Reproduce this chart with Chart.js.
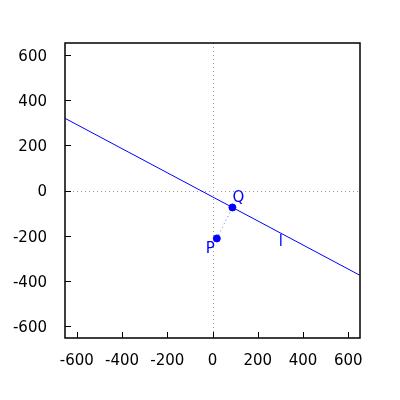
<!DOCTYPE html>
<html>
<head>
<meta charset="utf-8">
<script src="https://cdn.jsdelivr.net/npm/chart.js@4"></script>
<style>
  html, body { margin: 0; padding: 0; background: #fff; }
</style>
</head>
<body>
<canvas id="graph" width="400" height="400"></canvas>
<script>
// droite l (bords du cadre), points P et Q
const lineX = [-650, 650];
const lineY = [318, -374];
const pointNames = ['P', 'Q'];
const pointX = [19, 88];
const pointY = [-212, -75];
const labelNames = ['P', 'Q', 'l'];
const labelX = [-10, 114, 302];
const labelY = [-259, -34, -227];
const tickValues = [-600, -400, -200, 0, 200, 400, 600];

const blue = '#0000ff';

// cadre, traits de graduation vers l'intérieur, axes pointillés, étiquettes
const decor = {
  id: 'decor',
  beforeDatasetsDraw(chart) {
    const c = chart.ctx, a = chart.chartArea;
    const xs = chart.scales.x, ys = chart.scales.y;
    c.save();
    c.strokeStyle = '#999';
    c.lineWidth = 1;
    c.setLineDash([1, 3]);
    c.beginPath();
    const x0 = Math.round(xs.getPixelForValue(0)) + 0.5;
    const y0 = Math.round(ys.getPixelForValue(0)) + 0.5;
    c.moveTo(x0, a.top); c.lineTo(x0, a.bottom);
    c.moveTo(a.left, y0); c.lineTo(a.right, y0);
    c.stroke();
    c.restore();
  },
  afterDatasetsDraw(chart) {
    const c = chart.ctx, a = chart.chartArea;
    const xs = chart.scales.x, ys = chart.scales.y;
    c.save();
    c.strokeStyle = '#000';
    c.lineWidth = 1;
    c.beginPath();
    tickValues.forEach(v => {
      const px = Math.round(xs.getPixelForValue(v)) + 0.5;
      c.moveTo(px, a.bottom); c.lineTo(px, a.bottom - 6);
      const py = Math.round(ys.getPixelForValue(v)) + 0.5;
      c.moveTo(a.left, py); c.lineTo(a.left + 6, py);
    });
    c.stroke();
    c.lineWidth = 1.5;
    c.strokeRect(a.left, a.top, a.right - a.left, a.bottom - a.top);
    c.fillStyle = blue;
    c.font = '15px "DejaVu Sans"';
    c.textAlign = 'center';
    c.textBaseline = 'middle';
    labelNames.forEach((t, i) => {
      c.fillText(t, xs.getPixelForValue(labelX[i]), ys.getPixelForValue(labelY[i]));
    });
    c.restore();
  }
};

const ctx = document.getElementById('graph').getContext('2d');
new Chart(ctx, {
  type: 'scatter',
  data: {
    datasets: [
      {
        data: lineX.map((x, i) => ({ x: x, y: lineY[i] })),
        showLine: true,
        borderColor: blue,
        borderWidth: 1,
        pointRadius: 0
      },
      {
        data: pointX.map((x, i) => ({ x: x, y: pointY[i] })),
        showLine: true,
        borderColor: 'rgba(80,80,255,0.8)',
        borderWidth: 1,
        borderDash: [1, 3],
        pointRadius: 3.5,
        pointBackgroundColor: blue,
        pointBorderColor: blue
      }
    ]
  },
  options: {
    responsive: false,
    animation: false,
    clip: false,
    layout: { padding: { top: 43, right: 40, left: 0, bottom: 0 } },
    plugins: { legend: { display: false }, tooltip: { enabled: false } },
    scales: {
      x: {
        type: 'linear',
        min: -652,
        max: 652,
        afterBuildTicks: s => { s.ticks = tickValues.map(v => ({ value: v })); },
        afterFit: s => { s.height = 62; },
        grid: { display: false },
        border: { display: false },
        ticks: { color: '#000', padding: 6, maxRotation: 0, font: { family: 'DejaVu Sans', size: 15 } }
      },
      y: {
        type: 'linear',
        min: -652,
        max: 652,
        afterBuildTicks: s => { s.ticks = tickValues.map(v => ({ value: v })); },
        afterFit: s => { s.width = 65; },
        grid: { display: false },
        border: { display: false },
        ticks: { color: '#000', padding: 10, labelOffset: 2, font: { family: 'DejaVu Sans', size: 15 } }
      }
    }
  },
  plugins: [decor]
});
</script>
</body>
</html>
